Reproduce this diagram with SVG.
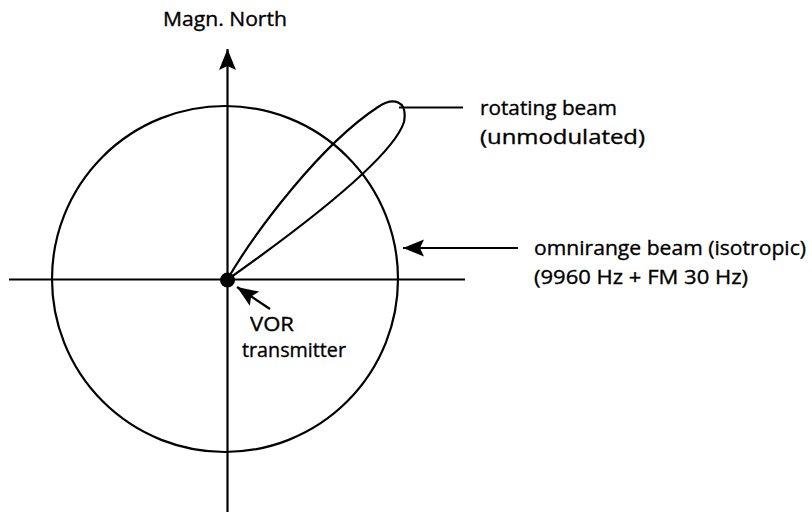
<svg xmlns="http://www.w3.org/2000/svg" width="812" height="515" viewBox="0 0 812 515">
<style>
.ln{fill:none;stroke:#000;stroke-width:2.2}
.t{font-family:"Open Sans","Noto Sans","Liberation Sans",sans-serif;font-size:20px;fill:#000;stroke:#000;stroke-width:0.35}
</style>
<defs>
<marker id="ah" viewBox="0 0 22 18" refX="21" refY="9" markerWidth="22" markerHeight="18" markerUnits="userSpaceOnUse" orient="auto">
<path d="M21,9 L0,0.5 L4,9 L0,17.5 Z" fill="#000"/>
</marker>
</defs>
<rect width="812" height="515" fill="#fff"/>
<g id="circle">
<circle class="ln" cx="225" cy="279" r="173"/>
</g>
<g id="axes">
<line class="ln" x1="9" y1="279.5" x2="465" y2="279.5"/>
<line class="ln" x1="227.5" y1="512" x2="227.5" y2="49" marker-end="url(#ah)"/>
</g>
<g id="lobe">
<path class="ln" d="M227,280 C255,232 320,145 378,107 C393,97 408,100 404,122 C395,150 340,200 227,280 Z"/>
</g>
<g id="transmitter">
<circle cx="227.5" cy="280" r="7.5" fill="#000"/>
</g>
<g id="connectors">
<line class="ln" x1="399" y1="107.5" x2="463" y2="107.5"/>
<line class="ln" x1="518" y1="248" x2="403" y2="248" marker-end="url(#ah)"/>
<line class="ln" x1="270" y1="309" x2="237" y2="287" marker-end="url(#ah)"/>
</g>
<g id="labels">
<text class="t" x="163" y="26" textLength="124" lengthAdjust="spacingAndGlyphs">Magn. North</text>
<text class="t" x="480" y="115" textLength="137" lengthAdjust="spacingAndGlyphs">rotating beam</text>
<text class="t" x="480" y="144" textLength="165" lengthAdjust="spacingAndGlyphs">(unmodulated)</text>
<text class="t" x="534" y="255" textLength="272" lengthAdjust="spacingAndGlyphs">omnirange beam (isotropic)</text>
<text class="t" x="534" y="284" textLength="214" lengthAdjust="spacingAndGlyphs">(9960 Hz + FM 30 Hz)</text>
<text class="t" x="250" y="331" textLength="44" lengthAdjust="spacingAndGlyphs">VOR</text>
<text class="t" x="242" y="357" textLength="104" lengthAdjust="spacingAndGlyphs">transmitter</text>
</g>
</svg>
